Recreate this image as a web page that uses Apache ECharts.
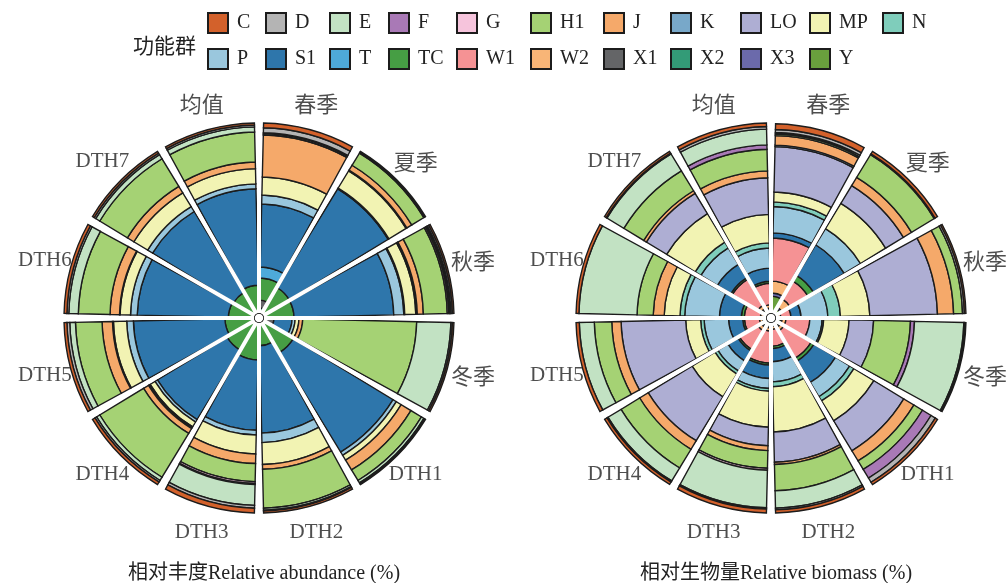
<!DOCTYPE html>
<html>
<head>
<meta charset="utf-8">
<title>功能群相对丰度与相对生物量</title>
<script src="https://cdn.jsdelivr.net/npm/echarts@6/dist/echarts.min.js"></script>
<style>
  html, body { margin: 0; padding: 0; background: #fff; }
  #main { width: 1007px; height: 583px; }
</style>
</head>
<body>
<div id="main"></div>
<script>
// 扇区：季节、样点、均值（从正上方顺时针）
const sectors = ['春季', '夏季', '秋季', '冬季', 'DTH1', 'DTH2', 'DTH3', 'DTH4', 'DTH5', 'DTH6', 'DTH7', '均值'];
// 功能群，图例顺序（堆叠时由内向外是倒序）
const groups = ['C', 'D', 'E', 'F', 'G', 'H1', 'J', 'K', 'LO', 'MP', 'N', 'P', 'S1', 'T', 'TC', 'W1', 'W2', 'X1', 'X2', 'X3', 'Y'];
const groupColors = ['#d3612b', '#b4b4b4', '#c2e2c3', '#a979b6', '#f6c4dc', '#a5d274', '#f5a96a', '#78a8c9', '#aeaed3', '#f2f3b3', '#7fcdbb',
                     '#9ac7dd', '#2e76ab', '#4eaad9', '#469e44', '#f59294', '#f8b577', '#646567', '#339b77', '#6b6aab', '#699f3d'];

// 相对丰度 (%)，顺序同 sectors
const abu_C  = [2.5, 0.5, 0.8, 0.8, 0.5, 1.0, 2.5, 1.5, 1.5, 1.5, 1.0, 1.0];
const abu_D  = [2.6, 0, 0.8, 0.8, 0.5, 0.5, 1.5, 1.0, 1.5, 1.0, 1.0, 1.0];
const abu_E  = [0.6, 0.5, 0.6, 18, 1.5, 1.0, 11, 2.0, 3.0, 5.0, 2.5, 2.7];
const abu_F  = [0, 0, 0.5, 0, 0, 0, 0.5, 0, 0, 0, 0, 0];
const abu_G  = [0, 0, 0.8, 0, 0, 0, 1.0, 0, 0, 0, 0, 0];
const abu_H1 = [0.6, 7.5, 12.6, 60, 6.5, 20.5, 9.5, 27, 14, 16.7, 17, 15.8];
const abu_J  = [22.1, 3.0, 3.2, 2.0, 6.0, 2.5, 5.0, 3.0, 5.5, 5.0, 4.0, 3.5];
const abu_K  = [0, 0, 0.3, 0, 0, 0, 0, 0.5, 0, 0, 0, 0];
const abu_LO = [0, 0.5, 0.5, 0, 0, 0, 0, 0.5, 0.5, 0.3, 0, 0];
const abu_MP = [9.5, 10.5, 5.8, 2.0, 3.0, 11.5, 10, 3.0, 7.0, 5.5, 8.5, 8.0];
const abu_N  = [0, 0, 0.5, 0, 0, 0, 0, 0, 0, 0, 0, 0];
const abu_P  = [4.7, 0.5, 5.3, 1.6, 2.0, 5.0, 2.5, 1.5, 3.5, 3.5, 3.0, 2.6];
const abu_S1 = [33.2, 61, 52.5, 9.5, 61.5, 46, 37, 43, 48.2, 48, 50, 50.8];
const abu_T  = [5.8, 0, 0, 0, 0, 0, 0, 0, 0, 0, 0, 0];
const abu_TC = [11.6, 16, 15.8, 0, 18.5, 12, 19.5, 17, 15.3, 13.5, 13, 14.6];
const abu_W1 = [0, 0, 0, 0, 0, 0, 0, 0, 0, 0, 0, 0];
const abu_W2 = [0, 0, 0, 0, 0, 0, 0, 0, 0, 0, 0, 0];
const abu_X1 = [4.2, 0, 0, 5.3, 0, 0, 0, 0, 0, 0, 0, 0];
const abu_X2 = [2.6, 0, 0, 0, 0, 0, 0, 0, 0, 0, 0, 0];
const abu_X3 = [0, 0, 0, 0, 0, 0, 0, 0, 0, 0, 0, 0];
const abu_Y  = [0, 0, 0, 0, 0, 0, 0, 0, 0, 0, 0, 0];

// 相对生物量 (%)
const bio_C  = [3.0, 1.5, 0.8, 0.6, 1.4, 1.6, 2.0, 1.4, 1.7, 1.5, 1.0, 1.8];
const bio_D  = [1.6, 0.5, 1.0, 0.5, 2.6, 0.9, 0.7, 0.7, 0, 0, 0.5, 1.4];
const bio_E  = [0.8, 0, 0, 26, 0, 9.2, 19.8, 8.0, 7.9, 30.6, 10.4, 8.3];
const bio_F  = [0, 0, 0, 2.1, 5.3, 0, 0, 0, 0, 0, 0, 2.3];
const bio_G  = [0, 0, 0, 0, 0, 0, 1.0, 0, 0, 0, 0, 0];
const bio_H1 = [0.8, 14, 4.7, 19.4, 5.3, 13.8, 9.3, 11.5, 9.2, 8.5, 12.3, 11.4];
const bio_J  = [5.0, 5.0, 8.5, 0, 6.2, 1.2, 2.6, 5.3, 4.9, 5.8, 1.6, 3.6];
const bio_K  = [0.8, 0, 0, 0, 0, 0, 0, 0, 0, 0, 0, 0];
const bio_LO = [23.9, 11, 35.6, 12.9, 18.4, 15.9, 9.7, 27, 34, 0, 12.5, 19.3];
const bio_MP = [5.2, 15.5, 15.5, 13.4, 12.3, 23.8, 19, 14.1, 7.9, 8.3, 17.6, 15];
const bio_N  = [2.4, 0, 6.6, 0.8, 2.6, 2.6, 1.4, 1.8, 1.8, 2.5, 3.5, 2.7];
const bio_P  = [13.9, 10, 14.1, 6.5, 8.8, 10.6, 5.3, 6.2, 12.9, 18.3, 10.2, 10.6];
const bio_S1 = [2.7, 19, 5.3, 0, 13.2, 6.9, 7.0, 6.2, 7.4, 11.5, 8.3, 6.9];
const bio_T  = [0, 0, 0, 0, 0, 0, 0, 0, 0, 0, 0, 0];
const bio_TC = [0, 3.5, 0, 0, 1.8, 1.2, 1.0, 0.9, 0.9, 1.5, 0.9, 1.0];
const bio_W1 = [22.7, 11, 5.3, 12.5, 16.8, 8.8, 16.8, 11.5, 7.9, 8.5, 15.9, 11.3];
const bio_W2 = [6.3, 5.0, 1.1, 2.0, 2.0, 1.5, 1.7, 2.0, 1.5, 1.5, 2.0, 1.7];
const bio_X1 = [0, 0, 0, 0, 0, 0, 0, 0, 0, 0, 0, 0];
const bio_X2 = [0, 0, 0, 0, 0, 0, 0, 0, 0, 0, 0, 0];
const bio_X3 = [1.6, 1.0, 0, 0.8, 0.8, 0, 0.7, 0.8, 0, 0, 0.8, 0.7];
const bio_Y  = [8.9, 3.0, 1.5, 2.5, 2.5, 2.0, 2.0, 2.5, 2.0, 1.5, 2.5, 2.0];

const abundance = {C: abu_C, D: abu_D, E: abu_E, F: abu_F, G: abu_G, H1: abu_H1, J: abu_J, K: abu_K, LO: abu_LO, MP: abu_MP, N: abu_N,
  P: abu_P, S1: abu_S1, T: abu_T, TC: abu_TC, W1: abu_W1, W2: abu_W2, X1: abu_X1, X2: abu_X2, X3: abu_X3, Y: abu_Y};
const biomass = {C: bio_C, D: bio_D, E: bio_E, F: bio_F, G: bio_G, H1: bio_H1, J: bio_J, K: bio_K, LO: bio_LO, MP: bio_MP, N: bio_N,
  P: bio_P, S1: bio_S1, T: bio_T, TC: bio_TC, W1: bio_W1, W2: bio_W2, X1: bio_X1, X2: bio_X2, X3: bio_X3, Y: bio_Y};

// 图例按列排（上行、下行）
const legendCols = [['C', 'P'], ['D', 'S1'], ['E', 'T'], ['F', 'TC'], ['G', 'W1'], ['H1', 'W2'], ['J', 'X1'], ['K', 'X2'], ['LO', 'X3'], ['MP', 'Y'], ['N']];
const legendX = [207, 265, 329, 388, 456, 530, 603, 670, 740, 809, 882];

const SERIF = "'Liberation Serif', 'Times New Roman', 'Noto Sans CJK SC', serif";
const TEXT = '#222';
const LABEL_R = 114;   // 扇区标签所在半径（轴刻度单位）

let chart = echarts.init(document.getElementById('main'));

function stack_series(table, polarIndex) {
  // 图例最后一个在最内层
  return groups.slice().reverse().map(g => ({
    name: g,
    type: 'bar',
    coordinateSystem: 'polar',
    polarIndex: polarIndex,
    stack: 'total' + polarIndex,
    barCategoryGap: '9%',
    itemStyle: {
      color: groupColors[groups.indexOf(g)],
      borderColor: '#1c1c1c',
      borderWidth: 1.4
    },
    emphasis: {disabled: true},
    data: table[g].map(v => v > 0 ? v : '-'),
    z: 2
  }));
}

function label_series(polarIndex) {
  return {
    type: 'scatter',
    coordinateSystem: 'polar',
    polarIndex: polarIndex,
    silent: true,
    symbolSize: 1,
    itemStyle: {color: 'rgba(0,0,0,0)'},
    data: sectors.map((s, i) => [LABEL_R, i]),
    label: {
      show: true,
      position: 'inside',
      formatter: p => {
        let name = sectors[p.dataIndex];
        return /[\u4e00-\u9fa5]/.test(name) ? '{cn|' + name + '}' : '{en|' + name + '}';
      },
      rich: {
        cn: {fontSize: 22, color: TEXT, fontFamily: "'Noto Sans CJK SC', sans-serif"},
        en: {fontSize: 21, color: TEXT, fontFamily: SERIF}
      }
    },
    z: 10
  };
}

function polar_axes(polarIndex) {
  return {
    angle: {
      polarIndex: polarIndex,
      type: 'category',
      data: sectors,
      startAngle: 90,
      clockwise: true,
      axisLine: {show: false},
      axisTick: {show: false},
      axisLabel: {show: false},
      splitLine: {show: true, lineStyle: {color: '#fff', width: 4}},
      z: 5
    },
    radius: {
      polarIndex: polarIndex,
      type: 'value',
      min: 0,
      max: 115,
      show: false
    }
  };
}

let axes0 = polar_axes(0);
let axes1 = polar_axes(1);

let option = {
  backgroundColor: '#fff',
  animation: false,
  title: [
    {text: '功能群', left: 128, top: 30, textStyle: {fontSize: 21, fontWeight: 'normal', color: TEXT, fontFamily: "'Noto Sans CJK SC', sans-serif"}},
    {text: '相对丰度Relative abundance (%)', left: 259, top: 559, textAlign: 'center',
      textStyle: {fontSize: 20, fontWeight: 'normal', color: TEXT, fontFamily: SERIF}},
    {text: '相对生物量Relative biomass (%)', left: 771, top: 559, textAlign: 'center',
      textStyle: {fontSize: 20, fontWeight: 'normal', color: TEXT, fontFamily: SERIF}}
  ],
  legend: legendCols.map((col, i) => ({
    orient: 'vertical',
    left: legendX[i],
    top: 12,
    icon: 'rect',
    itemWidth: 20,
    itemHeight: 20,
    itemGap: 14,
    padding: 0,
    data: col,
    textStyle: {fontSize: 20, color: TEXT, fontFamily: SERIF, padding: [0, 0, 0, 4]}
  })),
  polar: [
    {center: [259, 318], radius: [5, 223.5]},
    {center: [771, 318], radius: [5, 223.5]}
  ],
  angleAxis: [axes0.angle, axes1.angle],
  radiusAxis: [axes0.radius, axes1.radius],
  series: [].concat(
    stack_series(abundance, 0),
    stack_series(biomass, 1),
    [label_series(0), label_series(1)]
  )
};

chart.setOption(option);
</script>
</body>
</html>
